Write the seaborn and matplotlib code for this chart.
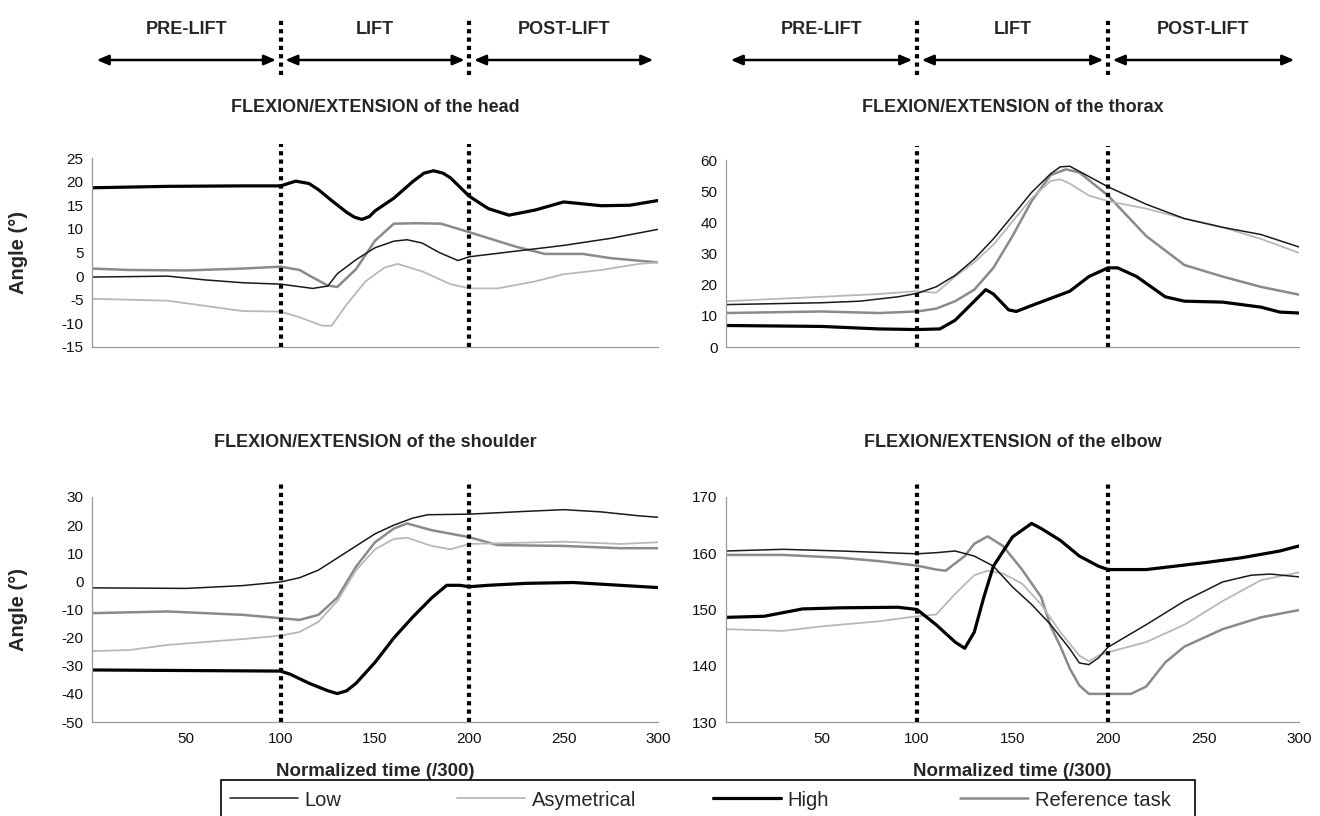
import pandas as pd
import matplotlib
matplotlib.use("Agg")
import matplotlib.pyplot as plt
import seaborn as sns
from matplotlib.lines import Line2D
from matplotlib.patches import Rectangle

# ---- data (time in /300, angle in degrees) ----
CONDITIONS = ["Low", "Asymetrical", "High", "Reference task"]
PHASES = ["PRE-LIFT", "LIFT", "POST-LIFT"]
PHASE_LIMITS = [100, 200]

# head
HEAD_LOW_T = [0, 40, 60, 80, 100, 117, 125, 130, 140, 150, 160, 167, 175, 184, 194, 200, 225, 250, 275, 300]
HEAD_LOW = [-0.2, 0.0, -0.8, -1.4, -1.7, -2.6, -2.1, 0.5, 3.5, 6.0, 7.4, 7.7, 7.0, 5.0, 3.3, 4.1, 5.3, 6.5, 8.0, 9.9]
HEAD_ASYM_T = [0, 40, 60, 80, 100, 110, 122, 127, 135, 145, 155, 162, 175, 190, 200, 215, 235, 250, 270, 290, 300]
HEAD_ASYM = [-4.8, -5.2, -6.3, -7.4, -7.5, -8.7, -10.5, -10.5, -6.0, -1.1, 1.8, 2.6, 1.0, -1.7, -2.6, -2.6, -1.1, 0.4, 1.3, 2.6, 2.9]
HEAD_HIGH_T = [0, 40, 80, 100, 108, 115, 120, 127, 135, 139, 143, 147, 150, 160, 170, 176, 181, 186, 190, 200, 210, 221, 235, 250, 270, 285, 300]
HEAD_HIGH = [18.7, 19.0, 19.1, 19.1, 20.1, 19.6, 18.3, 16.0, 13.5, 12.5, 12.0, 12.6, 13.8, 16.5, 20.0, 21.8, 22.3, 21.8, 20.8, 16.9, 14.3, 12.9, 14.0, 15.7, 14.9, 15.0, 16.0]
HEAD_REF_T = [0, 20, 50, 80, 100, 110, 118, 125, 130, 140, 150, 160, 172, 185, 200, 212, 225, 240, 260, 275, 300]
HEAD_REF = [1.6, 1.3, 1.2, 1.6, 2.0, 1.3, -0.5, -2.0, -2.3, 1.5, 7.5, 11.1, 11.2, 11.1, 9.3, 7.8, 6.2, 4.7, 4.7, 3.8, 2.9]

# thorax
THORAX_LOW_T = [0, 50, 70, 90, 100, 110, 120, 130, 140, 150, 160, 170, 175, 180, 190, 200, 220, 240, 260, 280, 300]
THORAX_LOW = [13.6, 14.2, 14.7, 16.1, 17.2, 19.3, 23.0, 28.2, 34.7, 42.1, 49.6, 55.6, 57.8, 58.0, 54.7, 51.4, 45.8, 41.2, 38.4, 36.1, 32.1]
THORAX_ASYM_T = [0, 50, 80, 100, 110, 120, 130, 140, 150, 160, 170, 175, 180, 190, 200, 220, 240, 260, 280, 300]
THORAX_ASYM = [14.7, 16.1, 17.0, 17.9, 17.4, 22.6, 27.2, 32.8, 40.3, 47.7, 53.3, 53.8, 52.4, 48.6, 46.8, 44.4, 41.2, 38.4, 34.7, 30.2]
THORAX_HIGH_T = [0, 50, 80, 100, 112, 120, 130, 136, 140, 148, 152, 160, 170, 180, 190, 200, 205, 215, 230, 240, 260, 280, 290, 300]
THORAX_HIGH = [6.9, 6.6, 5.8, 5.6, 5.8, 8.6, 14.7, 18.4, 17.0, 11.9, 11.4, 13.3, 15.6, 17.9, 22.6, 25.4, 25.4, 22.6, 16.1, 14.7, 14.4, 12.8, 11.2, 10.9]
THORAX_REF_T = [0, 50, 80, 100, 110, 120, 130, 140, 150, 160, 170, 178, 185, 200, 210, 220, 240, 260, 280, 300]
THORAX_REF = [10.9, 11.4, 10.9, 11.4, 12.3, 14.7, 18.4, 25.4, 35.6, 46.8, 55.2, 57.0, 56.0, 48.6, 42.1, 35.6, 26.3, 22.6, 19.3, 16.8]

# shoulder
SHOULDER_LOW_T = [0, 50, 80, 100, 110, 120, 130, 140, 150, 160, 170, 178, 200, 230, 250, 270, 290, 300]
SHOULDER_LOW = [-2.3, -2.5, -1.5, -0.2, 1.3, 4.0, 8.3, 12.6, 16.9, 20.0, 22.5, 23.7, 23.9, 24.9, 25.5, 24.7, 23.3, 22.8]
SHOULDER_ASYM_T = [0, 20, 40, 80, 100, 110, 120, 130, 140, 150, 160, 167, 180, 190, 200, 250, 280, 300]
SHOULDER_ASYM = [-24.8, -24.4, -22.6, -20.5, -19.3, -18.0, -14.4, -7.0, 4.0, 11.4, 15.1, 15.5, 12.6, 11.4, 13.3, 14.1, 13.3, 13.9]
SHOULDER_HIGH_T = [0, 100, 105, 115, 125, 130, 135, 140, 150, 160, 170, 180, 188, 195, 200, 210, 230, 255, 280, 300]
SHOULDER_HIGH = [-31.5, -31.9, -33.0, -36.2, -38.9, -39.9, -38.9, -36.2, -28.8, -20.1, -12.7, -5.9, -1.4, -1.4, -1.9, -1.4, -0.7, -0.4, -1.4, -2.2]
SHOULDER_REF_T = [0, 40, 80, 100, 110, 120, 130, 140, 150, 160, 167, 180, 200, 215, 250, 280, 300]
SHOULDER_REF = [-11.3, -10.7, -11.9, -13.1, -13.7, -11.9, -5.8, 5.3, 13.9, 18.8, 20.6, 18.2, 15.7, 12.9, 12.6, 11.8, 11.8]

# elbow
ELBOW_LOW_T = [0, 30, 60, 100, 110, 120, 130, 140, 150, 160, 170, 180, 185, 190, 195, 200, 220, 240, 260, 275, 285, 300]
ELBOW_LOW = [160.4, 160.7, 160.4, 159.9, 160.1, 160.4, 159.5, 157.7, 154.0, 150.9, 147.3, 143.0, 140.5, 140.2, 141.4, 143.3, 147.3, 151.5, 154.9, 156.1, 156.3, 155.8]
ELBOW_ASYM_T = [0, 30, 50, 80, 100, 110, 120, 130, 137, 145, 155, 165, 175, 185, 190, 195, 200, 220, 240, 260, 280, 300]
ELBOW_ASYM = [146.5, 146.2, 147.0, 147.9, 148.8, 149.1, 152.8, 156.1, 156.9, 156.4, 154.6, 150.9, 146.0, 141.8, 140.8, 141.8, 142.4, 144.2, 147.3, 151.5, 155.2, 156.6]
ELBOW_HIGH_T = [0, 20, 40, 60, 90, 100, 110, 120, 125, 130, 135, 140, 150, 160, 165, 175, 185, 195, 200, 220, 250, 270, 290, 300]
ELBOW_HIGH = [148.6, 148.8, 150.1, 150.3, 150.4, 150.0, 147.3, 144.2, 143.1, 146.0, 152.2, 157.7, 162.9, 165.3, 164.4, 162.3, 159.5, 157.7, 157.1, 157.1, 158.3, 159.2, 160.4, 161.3]
ELBOW_REF_T = [0, 30, 60, 80, 100, 110, 115, 125, 130, 137, 145, 155, 165, 170, 175, 180, 185, 190, 212, 220, 230, 240, 260, 280, 300]
ELBOW_REF = [159.7, 159.7, 159.2, 158.6, 157.8, 157.1, 156.9, 159.5, 161.7, 163.0, 161.3, 157.1, 152.2, 147.0, 143.5, 139.5, 136.5, 135.0, 135.0, 136.3, 140.6, 143.4, 146.5, 148.6, 149.9]

PALETTE = {"Low": "#1a1a1a", "Asymetrical": "#b8b8b8", "High": "#000000", "Reference task": "#8a8a8a"}
WIDTHS = {"Low": 1.1, "Asymetrical": 1.3, "High": 2.3, "Reference task": 1.8}
DRAW_ORDER = ["Reference task", "Asymetrical", "Low", "High"]


def long_table(series):
    frames = []
    for cond, (t, v) in series.items():
        frames.append(pd.DataFrame({"time": t, "angle": v, "condition": cond}))
    return pd.concat(frames, ignore_index=True)


PANELS = [
    dict(title="FLEXION/EXTENSION of the head", box=(92, 158, 658, 347), ylim=(-15, 25), step=5,
         data={"Low": (HEAD_LOW_T, HEAD_LOW), "Asymetrical": (HEAD_ASYM_T, HEAD_ASYM),
               "High": (HEAD_HIGH_T, HEAD_HIGH), "Reference task": (HEAD_REF_T, HEAD_REF)}),
    dict(title="FLEXION/EXTENSION of the thorax", box=(726, 160, 1299, 347), ylim=(0, 60), step=10,
         data={"Low": (THORAX_LOW_T, THORAX_LOW), "Asymetrical": (THORAX_ASYM_T, THORAX_ASYM),
               "High": (THORAX_HIGH_T, THORAX_HIGH), "Reference task": (THORAX_REF_T, THORAX_REF)}),
    dict(title="FLEXION/EXTENSION of the shoulder", box=(92, 497, 658, 722), ylim=(-50, 30), step=10,
         data={"Low": (SHOULDER_LOW_T, SHOULDER_LOW), "Asymetrical": (SHOULDER_ASYM_T, SHOULDER_ASYM),
               "High": (SHOULDER_HIGH_T, SHOULDER_HIGH), "Reference task": (SHOULDER_REF_T, SHOULDER_REF)}),
    dict(title="FLEXION/EXTENSION of the elbow", box=(726, 497, 1299, 722), ylim=(130, 170), step=10,
         data={"Low": (ELBOW_LOW_T, ELBOW_LOW), "Asymetrical": (ELBOW_ASYM_T, ELBOW_ASYM),
               "High": (ELBOW_HIGH_T, ELBOW_HIGH), "Reference task": (ELBOW_REF_T, ELBOW_REF)}),
]

sns.set_style("white")
plt.rcParams["font.family"] = ["Liberation Sans", "DejaVu Sans"]
plt.rcParams["axes.unicode_minus"] = False

W, H = 1320, 816
fig = plt.figure(figsize=(W / 100, H / 100), dpi=100)


def px_axes(x0, y0, x1, y1):
    return fig.add_axes([x0 / W, 1 - y1 / H, (x1 - x0) / W, (y1 - y0) / H])


DOTS = dict(color="black", lw=3.0, linestyle=(0, (1, 1)), dash_capstyle="butt")

for i, p in enumerate(PANELS):
    x0, y0, x1, y1 = p["box"]
    ax = px_axes(x0, y0, x1, y1)
    df = long_table(p["data"])
    sns.lineplot(data=df, x="time", y="angle", hue="condition", size="condition",
                 hue_order=DRAW_ORDER, size_order=DRAW_ORDER,
                 palette=PALETTE, sizes=WIDTHS, estimator=None, sort=False,
                 legend=False, ax=ax)
    lo, hi = p["ylim"]
    ax.set_xlim(0, 300)
    ax.set_ylim(lo, hi)
    ax.set_yticks(range(lo, hi + 1, p["step"]))
    ax.set_xticks([50, 100, 150, 200, 250, 300])
    for s in ["top", "right"]:
        ax.spines[s].set_visible(False)
    for s in ["left", "bottom"]:
        ax.spines[s].set_color("#999999")
        ax.spines[s].set_linewidth(0.9)
    ax.tick_params(axis="both", length=4, width=0.8, color="#999999", labelsize=11, labelcolor="#111111")
    ax.tick_params(axis="y", pad=2)

    # phase boundaries poke above the plot area
    top_extra = 1 + 14 / (y1 - y0)
    for xb in PHASE_LIMITS:
        ax.axvline(xb, ymin=0, ymax=top_extra, clip_on=False, zorder=5, **DOTS)

    row = i // 2
    if row == 1:
        ax.set_xlabel("Normalized time (/300)", fontsize=13.5, fontweight="bold", labelpad=12)
    else:
        ax.set_xlabel("")
        ax.set_xticklabels([])
    if i % 2 == 0:
        ax.set_ylabel("Angle (°)", fontsize=14.5, fontweight="bold")
        ax.yaxis.set_label_coords(-(x0 - 28) / (x1 - x0), 0.5)
    else:
        ax.set_ylabel("")

    title_y = 107 if row == 0 else 443
    fig.text((x0 + x1) / 2 / W, 1 - title_y / H, p["title"], ha="center", va="center",
             fontsize=13, fontweight="bold")

# phase header above each column
for x0, x1 in [(92, 658), (726, 1299)]:
    hax = px_axes(x0, 10, x1, 80)
    hax.set_xlim(0, 300)
    hax.set_ylim(0, 70)
    hax.axis("off")
    starts = [0] + PHASE_LIMITS
    ends = PHASE_LIMITS + [300]
    for name, a, b in zip(PHASES, starts, ends):
        hax.annotate("", xy=(a + 2.5, 20), xytext=(b - 2.5, 20),
                     arrowprops=dict(arrowstyle="<|-|>,head_length=0.7,head_width=0.3",
                                     color="black", lw=1.8, shrinkA=0, shrinkB=0))
        hax.text((a + b) / 2, 50, name, ha="center", va="center", fontsize=13, fontweight="bold")
    for xb in PHASE_LIMITS:
        hax.plot([xb, xb], [5, 62], **DOTS)

# legend box at the bottom, partly cut off like the original
fig.add_artist(Rectangle((221 / W, -0.05), (1195 - 221) / W, (816 - 780) / H + 0.05,
                         transform=fig.transFigure, fill=False, ec="black", lw=1.2))
LEGEND_X = [230, 457, 713, 960]
for cond, lx in zip(CONDITIONS, LEGEND_X):
    handle = Line2D([], [], color=PALETTE[cond], lw=WIDTHS[cond])
    fig.legend([handle], [cond], loc="center left", bbox_to_anchor=(lx / W, 1 - 800 / H),
               frameon=False, fontsize=14.5, handlelength=3.4, handletextpad=0.3,
               borderpad=0, borderaxespad=0)

fig.savefig("out.png", dpi=100)
